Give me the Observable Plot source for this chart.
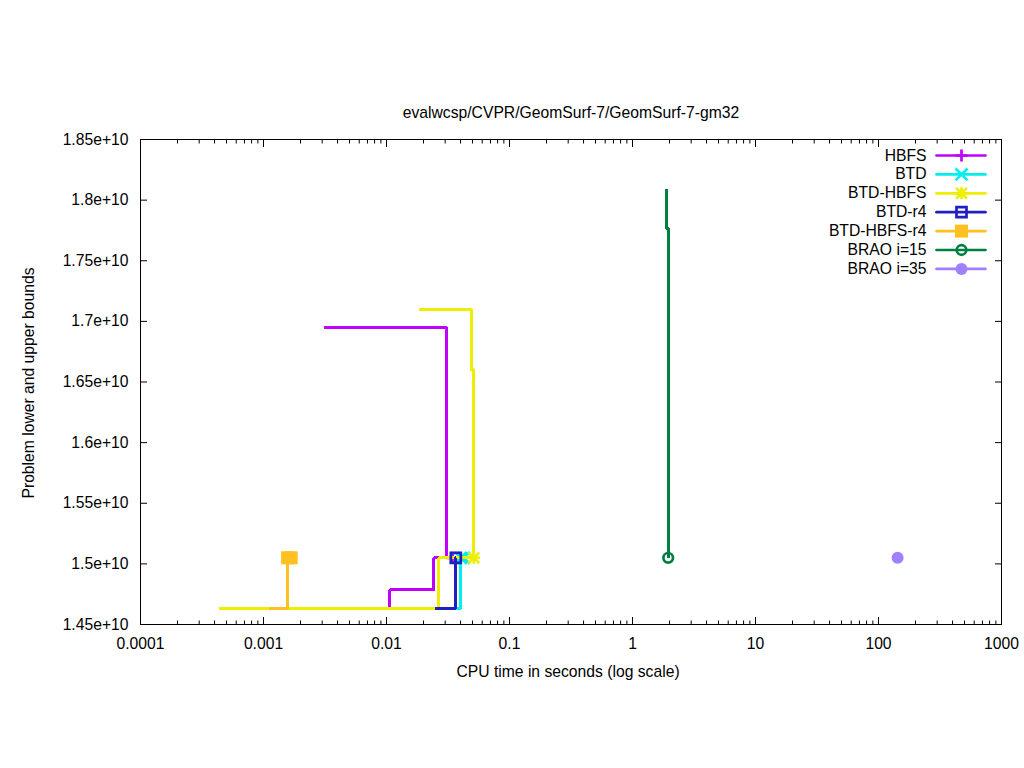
<!DOCTYPE html>
<html><head><meta charset="utf-8">
<script src="https://cdn.jsdelivr.net/npm/d3@7"></script>
<script src="https://cdn.jsdelivr.net/npm/@observablehq/plot@0.6"></script>
<style>html,body{margin:0;padding:0;background:#fff;} svg{display:block}</style>
</head><body><div id="chart"></div>
<script>
const title = "evalwcsp/CVPR/GeomSurf-7/GeomSurf-7-gm32";
const xLabel = "CPU time in seconds (log scale)";
const yLabel = "Problem lower and upper bounds";

const seriesNames = ["HBFS", "BTD", "BTD-HBFS", "BTD-r4", "BTD-HBFS-r4", "BRAO i=15", "BRAO i=35"];
const seriesColors = ["#c000ff", "#00eeee", "#eeee00", "#2020c0", "#ffc020", "#008040", "#a080ff"];
const seriesSymbols = ["plus", "times", "asterisk", "square", "filledSquare", "circle", "filledCircle"];

// lower bounds (time, value) per series
const lowerTimes = [
  [0.002, 0.0106, 0.0243, 0.0344],
  [0.002, 0.0402, 0.0425],
  [0.000438, 0.0266, 0.0513],
  [0.025, 0.0364, 0.0366],
  [0.0011, 0.00157],
  [],
  []
];
const lowerValues = [
  [1.4636e10, 1.4785e10, 1.505e10, 1.505e10],
  [1.4636e10, 1.505e10, 1.505e10],
  [1.4636e10, 1.505e10, 1.505e10],
  [1.4636e10, 1.505e10, 1.505e10],
  [1.4636e10, 1.505e10],
  [],
  []
];
// upper bounds (time, value) per series
const upperTimes = [
  [0.0031, 0.0305, 0.0344],
  [],
  [0.0183, 0.0489, 0.0513],
  [],
  [],
  [1.905, 1.905, 1.95],
  []
];
const upperValues = [
  [1.695e10, 1.505e10, 1.505e10],
  [],
  [1.71e10, 1.66e10, 1.505e10],
  [],
  [],
  [1.809e10, 1.7766e10, 1.505e10],
  []
];
// end-point markers per series
const markerTimes = [[0.0344], [0.0402, 0.0425], [0.0513], [0.0366], [0.00157, 0.00168], [1.95], [143]];
const markerValues = [[1.505e10], [1.505e10, 1.505e10], [1.505e10], [1.505e10], [1.505e10, 1.505e10], [1.505e10], [1.505e10]];

const xTicks = [1e-4, 1e-3, 1e-2, 1e-1, 1, 10, 100, 1000];
const xTickLabels = ["0.0001", "0.001", "0.01", "0.1", "1", "10", "100", "1000"];
const yTicks = [1.45e10, 1.5e10, 1.55e10, 1.6e10, 1.65e10, 1.7e10, 1.75e10, 1.8e10, 1.85e10];
const xMinorTicks = [];
for (const decade of xTicks.slice(0, -1)) for (let m = 2; m <= 9; m++) xMinorTicks.push(decade * m);

const LW = 2.7;
const zip = (t, v) => t.map((d, i) => ({t: d, v: v[i]}));
const lineShape = {draw(context, l) { context.moveTo(0, 0); context.lineTo(0, -l); }};

function symbolOptions(sym, color) {
  switch (sym) {
    case "plus": return [{symbol: "plus", r: 3.95, stroke: color, fill: "none", strokeWidth: LW}];
    case "times": return [{symbol: "times", r: 5.5, stroke: color, fill: "none", strokeWidth: LW}];
    case "asterisk": return [
      {symbol: "plus", r: 3.95, stroke: color, fill: "none", strokeWidth: LW},
      {symbol: "times", r: 5.0, stroke: color, fill: "none", strokeWidth: LW}];
    case "square": return [{symbol: "square", r: 5.64, stroke: color, fill: "none", strokeWidth: LW}];
    case "filledSquare": return [{symbol: "square", r: 7.33, fill: color, stroke: "none"}];
    case "circle": return [{symbol: "circle", r: 4.8, stroke: color, fill: "none", strokeWidth: LW}];
    case "filledCircle": return [{symbol: "circle", r: 6, fill: color, stroke: "none"}];
  }
}

const lineStyle = {x: "t", y: "v", curve: "step-after", strokeWidth: 3, strokeLinejoin: "miter", strokeLinecap: "butt", shapeRendering: "crispEdges"};

const marks = [];
seriesNames.forEach((name, i) => {
  const color = seriesColors[i];
  if (lowerTimes[i].length) marks.push(Plot.line(zip(lowerTimes[i], lowerValues[i]), {...lineStyle, stroke: color}));
  if (upperTimes[i].length) marks.push(Plot.line(zip(upperTimes[i], upperValues[i]), {...lineStyle, stroke: color}));
  for (const o of symbolOptions(seriesSymbols[i], color))
    marks.push(Plot.dot(zip(markerTimes[i], markerValues[i]), {x: "t", y: "v", ...o}));
});

// legend
const legendRowStep = 18.9;
seriesNames.forEach((name, i) => {
  const color = seriesColors[i];
  const dy = 16 + i * legendRowStep;
  marks.push(Plot.text([name], {frameAnchor: "top-right", dx: -75, dy, text: d => d, textAnchor: "end", lineAnchor: "middle", fill: "black"}));
  marks.push(Plot.vector([0], {frameAnchor: "top-right", dx: -65, dy, rotate: 90, length: 49, anchor: "start", shape: lineShape, stroke: color, strokeWidth: LW}));
  for (const o of symbolOptions(seriesSymbols[i], color))
    marks.push(Plot.dot([0], {frameAnchor: "top-right", dx: -40, dy, ...o}));
});

const chart = Plot.plot({
  width: 1024,
  height: 768,
  marginLeft: 140,
  marginRight: 23,
  marginTop: 139,
  marginBottom: 144,
  style: {fontFamily: "'Liberation Sans', Arial, sans-serif", fontSize: "15.7px", background: "white", color: "black"},
  x: {type: "log", domain: [1e-4, 1000]},
  y: {domain: [1.45e10, 1.85e10]},
  marks: [
    // ticks (inward) on all four sides
    Plot.axisX(xTicks, {anchor: "bottom", tickSize: 7, dy: -7, fill: "none", label: null}),
    Plot.axisX(xTicks, {anchor: "top", tickSize: 7, dy: 7, fill: "none", label: null}),
    Plot.axisX(xMinorTicks, {anchor: "bottom", tickSize: 3.5, dy: -3.5, fill: "none", label: null}),
    Plot.axisX(xMinorTicks, {anchor: "top", tickSize: 3.5, dy: 3.5, fill: "none", label: null}),
    Plot.axisY(yTicks, {anchor: "left", tickSize: 7, dx: 7, fill: "none", label: null}),
    Plot.axisY(yTicks, {anchor: "right", tickSize: 7, dx: -7, fill: "none", label: null}),
    // tick labels
    Plot.axisX(xTicks, {anchor: "bottom", tickSize: 0, tickPadding: 13, tickFormat: d => xTickLabels[xTicks.indexOf(d)], label: null}),
    Plot.axisY(yTicks, {anchor: "left", tickSize: 0, tickPadding: 12, tickFormat: d => d.toExponential(), label: null}),
    Plot.frame({stroke: "black", strokeWidth: 1}),
    ...marks,
    Plot.text([title], {frameAnchor: "top", dy: -21.5, text: d => d, textAnchor: "middle", lineAnchor: "bottom", fill: "black"}),
    Plot.text([xLabel], {frameAnchor: "bottom", dy: 52, dx: -3, text: d => d, textAnchor: "middle", lineAnchor: "bottom", fill: "black"}),
    Plot.text([yLabel], {frameAnchor: "left", dx: -112, dy: 1, rotate: -90, text: d => d, textAnchor: "middle", lineAnchor: "middle", fill: "black"})
  ]
});
document.getElementById("chart").appendChild(chart);
</script>
</body></html>
